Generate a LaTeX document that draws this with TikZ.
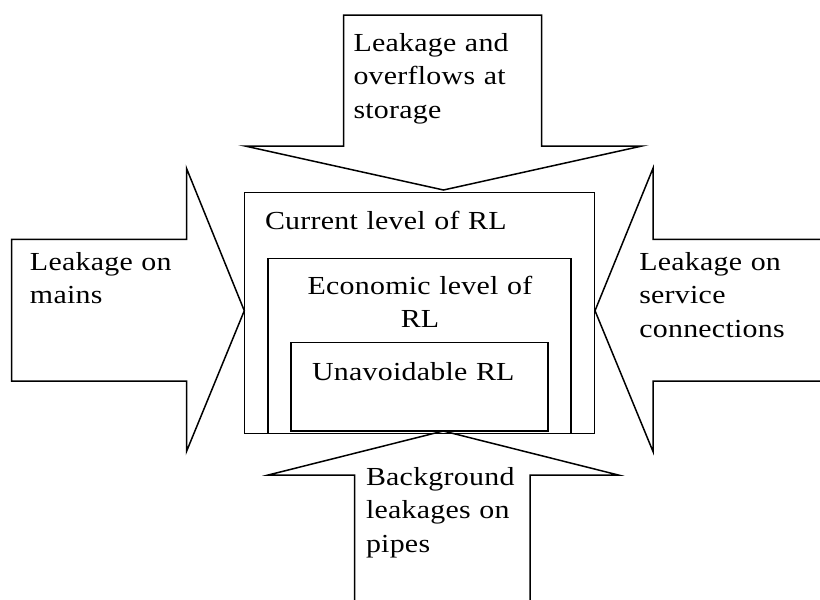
\documentclass[tikz,border=0pt]{standalone}
\usepackage{fontspec}
\setmainfont{Liberation Serif}[LetterSpace=1,FakeStretch=1.15]
\begin{document}
\begin{tikzpicture}[x=1pt,y=-1pt,
  shapeline/.style={draw=black,line width=1.5pt,line join=miter},
  lbl/.style={anchor=base west,inner sep=0pt,outer sep=0pt,align=left,text width=#1,
    font=\fontsize{26}{33.5}\selectfont},
  lbl/.default=220pt,
  clbl/.style={anchor=base,inner sep=0pt,outer sep=0pt,align=center,text width=#1,
    font=\fontsize{26}{33.5}\selectfont},
  clbl/.default=280pt]
\useasboundingbox (0,0) rectangle (820,600);
\fill[white] (0,0) rectangle (820,600);
% arrows
\draw[shapeline] (343.5,15) -- (541.5,15) -- (541.5,146) -- (642,146) -- (443.5,190)
  -- (245,146) -- (343.5,146) -- cycle;
\draw[shapeline] (11.5,239.3) -- (186.5,239.3) -- (186.5,168.3) -- (244.3,310.7)
  -- (186.5,451.5) -- (186.5,381) -- (11.5,381) -- cycle;
\draw[shapeline] (824,239.3) -- (653,239.3) -- (653,168.3) -- (595,310.7)
  -- (653,451.5) -- (653,381) -- (824,381);
\draw[shapeline] (354.7,604) -- (354.7,475) -- (268.3,475) -- (443.3,431)
  -- (618.3,475) -- (530,475) -- (530,604);
% boxes
\draw[shapeline] (244.3,192.7) rectangle (594.5,433.3);
\draw[shapeline] (268,258.4) rectangle (571,433.3);
\draw[shapeline] (291,342.4) rectangle (548,431);
% labels
\node[lbl] (storage) at (353.5,51) {Leakage and\\overflows at\\storage};
\node[lbl] (mains) at (30,270) {Leakage on\\mains};
\node[lbl] (service) at (639.3,270) {Leakage on\\service\\connections};
\node[lbl] (background) at (366,485) {Background\\leakages on\\pipes};
\node[lbl=330pt] (current) at (265,229) {Current level of RL};
\node[clbl] (economic) at (420,294) {Economic level of\\RL};
\node[lbl=250pt] (unavoidable) at (312,380) {Unavoidable RL};
\end{tikzpicture}
\end{document}
